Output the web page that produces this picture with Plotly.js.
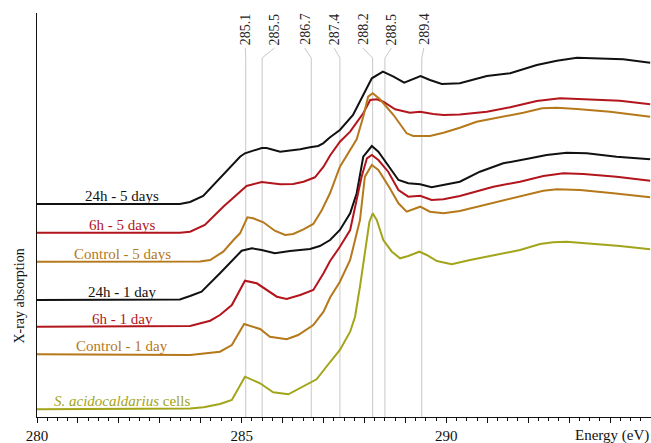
<!DOCTYPE html>
<html>
<head>
<meta charset="utf-8">
<script src="https://cdn.plot.ly/plotly-3.0.1.min.js"></script>
<style>html,body{margin:0;padding:0;background:#fff;}#chart{width:651px;height:443px;}</style>
</head>
<body>
<div id="chart"></div>
<script>
// ---- Data (energy in eV, absorption in arbitrary offset units) ----
const e24h5d = [280, 283.49, 283.74, 284.06, 284.96, 285.08, 285.49, 285.61, 285.94, 286.43, 286.67, 286.87, 286.99, 287.16, 287.40, 287.72, 287.97, 288.18, 288.45, 288.71, 288.97, 289.15, 289.37, 289.60, 289.89, 290.33, 290.99, 291.56, 292.21, 292.70, 293.19, 294.32, 294.98];
const y24h5d = [213, 213, 215, 221, 260.3, 263.7, 269, 269, 265.3, 267.7, 269.7, 271, 273.7, 279.7, 287, 302, 322, 338.7, 345.3, 340.3, 334.3, 337, 341, 337, 333, 333.7, 341, 343.7, 352, 356.3, 359.3, 357.7, 354.3];

const e6h5d = [280, 283.49, 283.74, 284.10, 284.55, 285.12, 285.49, 285.94, 286.26, 286.51, 286.79, 287.00, 287.16, 287.40, 287.65, 287.97, 288.14, 288.30, 288.46, 288.75, 289.11, 289.36, 289.68, 289.93, 290.33, 290.99, 291.56, 292.21, 292.78, 293.35, 294.24, 294.98];
const y6h5d = [184.3, 184.3, 185.3, 192, 210.3, 231, 235, 232.7, 233, 235.3, 239.7, 250.3, 261.5, 275.3, 285.3, 303.7, 317, 317.7, 315.3, 307.7, 304.3, 305.3, 303, 302, 302.5, 305.3, 309.7, 316, 318.7, 318, 316.3, 312.7];

const eCtl5d = [280, 283.98, 284.23, 284.55, 284.80, 284.96, 285.14, 285.28, 285.53, 285.81, 286.06, 286.26, 286.51, 286.75, 286.96, 287.16, 287.40, 287.81, 287.97, 288.09, 288.20, 288.38, 288.71, 289.03, 289.19, 289.60, 289.93, 290.33, 290.74, 291.31, 291.88, 292.34, 292.70, 293.19, 294.00, 294.98];
const yCtl5d = [155.3, 155.5, 157, 165.3, 177, 183.7, 199.7, 198.7, 194.7, 186.3, 182, 183, 187.7, 193, 207, 224, 250.3, 277.7, 300.3, 320.3, 323.7, 317.7, 302, 283.7, 281, 281, 284.3, 289.2, 295.3, 299.7, 304.3, 308.7, 309.3, 308, 305.3, 300.3];

const e24h1d = [280, 283.49, 283.74, 284.02, 284.47, 285.00, 285.25, 285.49, 285.81, 286.18, 286.67, 286.91, 287.16, 287.40, 287.65, 287.81, 287.97, 288.18, 288.34, 288.58, 288.83, 289.07, 289.36, 289.64, 289.93, 290.33, 290.82, 291.39, 292.05, 292.45, 292.94, 293.43, 294.16, 294.98];
const y24h1d = [117, 117.5, 121, 125.3, 143.7, 166.3, 168.7, 167, 163.7, 166, 168, 171, 177, 187, 203.7, 223.7, 260.3, 271, 265.3, 252, 237, 233.7, 232.7, 229.7, 232, 235.3, 245.3, 253.7, 258.7, 262, 264.3, 263.7, 260.3, 257.7];

const e6h1d = [280, 283.74, 284.23, 284.47, 284.76, 285.08, 285.37, 285.61, 285.86, 286.10, 286.43, 286.75, 287.00, 287.16, 287.40, 287.65, 287.77, 287.93, 288.06, 288.18, 288.34, 288.58, 288.83, 289.07, 289.36, 289.64, 289.93, 290.33, 291.15, 291.80, 292.37, 292.86, 293.35, 294.16, 294.98];
const y6h1d = [90.3, 91, 96.3, 102, 112, 136.3, 133.7, 127, 120.3, 118, 122, 127, 143.7, 156, 170.3, 187, 209, 240.3, 258.7, 262, 257, 245.3, 227, 220.3, 221.3, 217, 217.7, 221, 230.3, 235.3, 241, 243.7, 243, 240.3, 236.3];

const eCtl1d = [280, 283.74, 284.47, 284.76, 285.06, 285.45, 285.69, 285.90, 286.10, 286.38, 286.75, 287.00, 287.16, 287.40, 287.65, 287.89, 288.01, 288.18, 288.34, 288.62, 288.83, 289.03, 289.36, 289.60, 289.93, 290.33, 291.15, 291.80, 292.37, 292.70, 293.27, 294.08, 294.98];
const yCtl1d = [62.7, 62, 65.3, 72, 93, 88, 80.3, 79.3, 77.7, 82, 92, 105.3, 119.5, 135.3, 157, 197, 240.3, 252, 247, 228.7, 213.7, 205.3, 210.3, 205.3, 203.7, 206, 214.3, 220.3, 226.3, 227.7, 227, 223.7, 219.7];

const eCells = [280, 283.74, 284.07, 284.47, 284.76, 285.08, 285.45, 285.77, 286.14, 286.51, 286.83, 287.16, 287.40, 287.65, 287.77, 287.89, 288.01, 288.12, 288.20, 288.30, 288.46, 288.67, 288.87, 289.07, 289.34, 289.52, 289.77, 290.13, 290.58, 291.15, 291.80, 292.29, 292.61, 292.94, 293.27, 294.24, 294.98];
const yCells = [7.7, 8.5, 9.7, 13, 17, 40.3, 33.7, 24.7, 22.7, 30.3, 37.7, 55, 67, 85.3, 100.3, 130.3, 163.7, 195, 203.7, 197, 177, 165.3, 158.7, 161, 165.3, 162, 156, 152.7, 157, 162, 167, 173, 174.7, 175.3, 174.3, 171, 167.7];

const seriesNames = ["24h - 5 days", "6h - 5 days", "Control - 5 days", "24h - 1 day", "6h - 1 day", "Control - 1 day", "<i>S. acidocaldarius</i> cells"];

// Peak assignments (eV) and their label positions (eV)
const peakEnergies = [285.1, 285.5, 286.7, 287.4, 288.2, 288.5, 289.4];
const peakLabels = ["285.1", "285.5", "286.7", "287.4", "288.2", "288.5", "289.4"];
const peakLabelPos = [285.09, 285.80, 286.54, 287.26, 287.96, 288.66, 289.45];

const xTickVals = [280, 285, 290];
const xTickText = ["280", "285", "290"];

// ---- Styling ----
const BLACK = "#111111", RED = "#b3151d", BROWN = "#b5781b", OLIVE = "#a2a51a";
const FONT = "Liberation Serif, Times New Roman, serif";

const series = [
  {x: e24h5d, y: y24h5d, c: BLACK},
  {x: e6h5d, y: y6h5d, c: RED},
  {x: eCtl5d, y: yCtl5d, c: BROWN},
  {x: e24h1d, y: y24h1d, c: BLACK},
  {x: e6h1d, y: y6h1d, c: RED},
  {x: eCtl1d, y: yCtl1d, c: BROWN},
  {x: eCells, y: yCells, c: OLIVE}
];

const traces = series.map((s, i) => ({
  type: "scatter", mode: "lines", x: s.x, y: s.y, name: seriesNames[i],
  line: {color: s.c, width: 2}, hoverinfo: "skip", showlegend: false
}));

const annotations = series.map((s, i) => ({
  x: 282.08, y: s.y[0], xref: "x", yref: "y", text: seriesNames[i],
  showarrow: false, xanchor: "center", yanchor: "bottom", yshift: -2,
  font: {family: FONT, size: 15, color: s.c}
}));

const BEND = 359, TOP = 369;
const shapes = peakEnergies.map((e, i) => ({
  type: "path", xref: "x", yref: "y", layer: "below",
  path: `M ${e},0 L ${e},${BEND} L ${peakLabelPos[i]},${TOP}`,
  line: {color: "#c8c8c8", width: 1}
}));
peakEnergies.forEach((e, i) => {
  annotations.push({
    x: peakLabelPos[i], y: TOP + 1, xref: "x", yref: "y", text: peakLabels[i],
    textangle: -90, showarrow: false, xanchor: "center", yanchor: "bottom",
    font: {family: FONT, size: 14, color: "#222"}
  });
});

annotations.push({
  x: -0.028, y: 0.3, xref: "paper", yref: "paper", text: "X-ray absorption",
  textangle: -90, showarrow: false, xanchor: "center", yanchor: "middle",
  font: {family: FONT, size: 14, color: "#111"}
});
annotations.push({
  x: 1, y: 0, xref: "paper", yref: "paper", text: "Energy (eV)",
  showarrow: false, xanchor: "right", yanchor: "top", yshift: -8,
  font: {family: FONT, size: 15, color: "#111"}
});

const majorTicks = [];
for (let v = 280; v <= 295; v += 1) majorTicks.push(v);
const minorTicks = [];
for (let v = 280; v <= 295; v += 0.25) if (v % 1 !== 0) minorTicks.push(v);

const layout = {
  width: 651, height: 443,
  margin: {l: 37, r: 0, t: 13, b: 26},
  paper_bgcolor: "#fff", plot_bgcolor: "#fff",
  showlegend: false,
  xaxis: {
    range: [280, 295], showgrid: false, zeroline: false,
    showline: true, linecolor: "#111", linewidth: 1,
    tickmode: "array", tickvals: majorTicks,
    ticktext: majorTicks.map(v => xTickVals.includes(v) ? xTickText[xTickVals.indexOf(v)] : ""),
    ticks: "outside", ticklen: 5, tickcolor: "#111", tickwidth: 1,
    minor: {tickmode: "array", tickvals: minorTicks, ticks: "outside", ticklen: 3, tickcolor: "#111", tickwidth: 1, showgrid: false},
    tickfont: {family: FONT, size: 15, color: "#111"}
  },
  yaxis: {
    range: [0, 404], showgrid: false, zeroline: false,
    showline: true, linecolor: "#111", linewidth: 1.3,
    ticks: "", showticklabels: false
  },
  shapes: shapes,
  annotations: annotations
};

Plotly.newPlot("chart", traces, layout, {staticPlot: true, displayModeBar: false});
</script>
</body>
</html>
